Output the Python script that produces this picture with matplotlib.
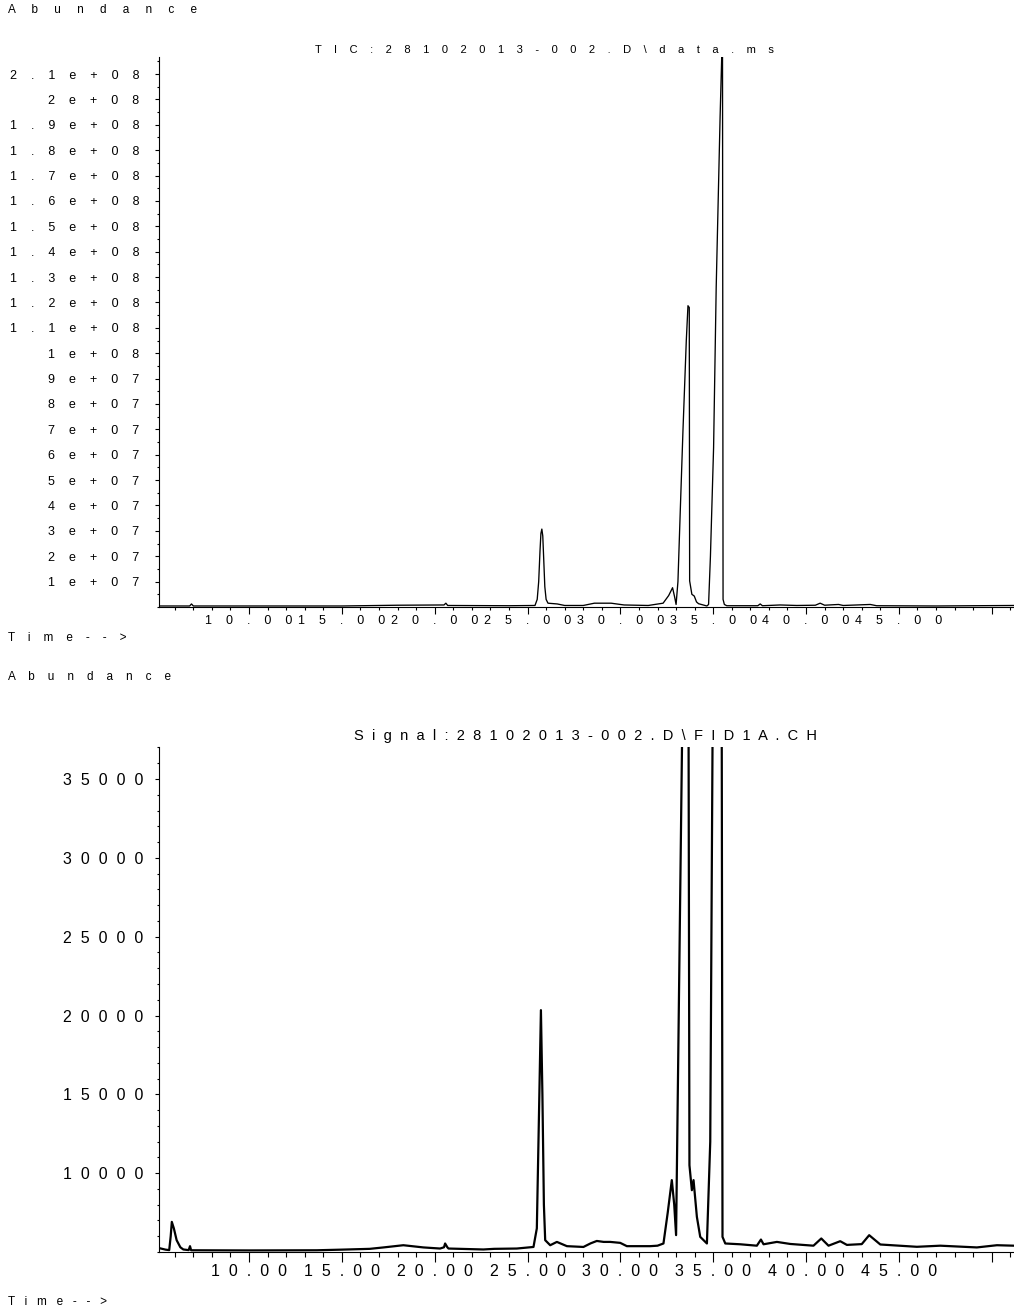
import matplotlib
matplotlib.use("Agg")
import matplotlib.pyplot as plt
from matplotlib.ticker import MultipleLocator

plt.rcParams['font.family'] = ['Liberation Sans', 'DejaVu Sans']

# TIC trace: retention time (min) and abundance (counts)
tic_time = [5.15, 6.8, 6.9, 7.0, 15.0, 18.0, 20.5, 20.6, 20.7, 24.0, 25.4,
            25.52, 25.6, 25.67, 25.72, 25.77, 25.82, 25.87, 25.93, 26.0,
            26.1, 26.6, 27.0, 28.0, 28.6, 29.5, 30.2, 31.5, 32.3, 32.6,
            32.81, 32.92, 33.0, 33.1, 33.22, 33.37, 33.45, 33.55, 33.64,
            33.71, 33.73, 33.85, 33.98, 34.1, 34.21, 34.66, 34.75, 34.85,
            35.02, 35.16, 35.37, 35.47, 35.5, 35.53, 35.6, 35.73, 37.4,
            37.53, 37.65, 38.6, 39.5, 40.5, 40.76, 41.0, 41.75, 42.0, 43.46,
            43.8, 47.0, 49.0, 51.2]
tic_abund = [0.04e7, 0.04e7, 0.12e7, 0.04e7, 0.04e7, 0.07e7, 0.08e7, 0.15e7,
             0.06e7, 0.05e7, 0.06e7, 0.3e7, 1.0e7, 2.2e7, 2.9e7, 3.07e7,
             2.8e7, 1.9e7, 0.8e7, 0.3e7, 0.15e7, 0.12e7, 0.06e7, 0.06e7,
             0.15e7, 0.15e7, 0.08e7, 0.06e7, 0.15e7, 0.45e7, 0.76e7, 0.4e7,
             0.1e7, 1.0e7, 3.67e7, 6.94e7, 8.52e7, 10.5e7, 11.87e7, 11.8e7,
             1.03e7, 0.5e7, 0.43e7, 0.2e7, 0.13e7, 0.04e7, 0.1e7, 2.0e7,
             6.28e7, 12.58e7, 19.29e7, 22.0e7, 22.0e7, 0.3e7, 0.1e7, 0.05e7,
             0.05e7, 0.12e7, 0.05e7, 0.08e7, 0.06e7, 0.07e7, 0.15e7, 0.07e7,
             0.1e7, 0.06e7, 0.1e7, 0.05e7, 0.04e7, 0.05e7, 0.06e7]

# FID trace: retention time (min) and detector signal
fid_time = [5.15, 5.5, 5.7, 5.78, 5.84, 5.95, 6.1, 6.3, 6.46, 6.75, 6.82,
            6.88, 10.0, 13.65, 15.0, 16.5, 17.24, 18.31, 19.39, 20.29, 20.5,
            20.56, 20.68, 20.74, 22.62, 23.2, 24.42, 25.32, 25.5, 25.62,
            25.72, 25.8, 25.88, 25.95, 26.22, 26.58, 27.12, 28.01, 28.4,
            28.73, 29.1, 29.45, 29.99, 30.35, 31.6, 32.0, 32.32, 32.55, 32.77,
            32.9, 33.0, 33.4, 33.6, 33.66, 33.72, 33.85, 33.94, 34.12, 34.3,
            34.66, 34.84, 35.0, 35.45, 35.5, 35.65, 36.45, 37.35, 37.57,
            37.71, 38.43, 39.15, 40.4, 40.82, 41.21, 41.84, 42.2, 43.0, 43.4,
            44.0, 45.97, 47.23, 49.2, 50.28, 51.2]
fid_signal = [5250, 5150, 5120, 6000, 6910, 6500, 5750, 5300, 5160, 5120,
              5370, 5110, 5100, 5110, 5150, 5200, 5290, 5430, 5290, 5220,
              5300, 5540, 5300, 5220, 5160, 5200, 5220, 5320, 6500, 14000,
              20340, 15000, 8000, 5750, 5430, 5640, 5370, 5320, 5550, 5700,
              5640, 5640, 5580, 5370, 5370, 5400, 5540, 7500, 9560, 8000,
              6070, 45000, 60000, 45000, 10500, 8920, 9560, 7230, 5960, 5540,
              12000, 45000, 45000, 5960, 5540, 5490, 5400, 5790, 5490, 5640,
              5510, 5400, 5857, 5400, 5685, 5450, 5500, 6066, 5476, 5330, 5400,
              5290, 5430, 5400]

time_ticks = [10, 15, 20, 25, 30, 35, 40, 45, 50]
time_labeled = [10, 15, 20, 25, 30, 35, 40, 45]
tic_ticks = [1e7, 2e7, 3e7, 4e7, 5e7, 6e7, 7e7, 8e7, 9e7, 1e8, 1.1e8, 1.2e8,
             1.3e8, 1.4e8, 1.5e8, 1.6e8, 1.7e8, 1.8e8, 1.9e8, 2e8, 2.1e8]
fid_ticks = [10000, 15000, 20000, 25000, 30000, 35000]


def spread(s, n):
    # the instrument software prints text with wide letter spacing
    return (" " * n).join(s)


W, H = 1014, 1315
fig = plt.figure(figsize=(W / 100, H / 100), dpi=100)

ax1 = fig.add_axes([159 / W, 1 - 607 / H, 1 - 159 / W, (607 - 57) / H])
ax2 = fig.add_axes([159 / W, 1 - 1252 / H, 1 - 159 / W, (1252 - 747) / H])

ax1.plot(tic_time, tic_abund, color="black", lw=0.95)
ax2.plot(fid_time, fid_signal, color="black", lw=1.6)

for ax in (ax1, ax2):
    ax.set_xlim(5.15, 51.2)
    ax.spines["top"].set_visible(False)
    ax.spines["right"].set_visible(False)
    for s in ("left", "bottom"):
        ax.spines[s].set_linewidth(0.8)
    ax.set_xticks(time_ticks)
    ax.xaxis.set_minor_locator(MultipleLocator(1))

# --- TIC panel ---
ax1.set_ylim(0, 2.167e8)
ax1.set_yticks(tic_ticks)
ax1.set_yticklabels([spread("%g" % v, 4) for v in tic_ticks])
ax1.yaxis.set_minor_locator(MultipleLocator(5e6))
ax1.set_xticklabels([spread("%.2f" % v, 4) if v in time_labeled else ""
                     for v in time_ticks])
ax1.tick_params(axis="y", which="major", length=3, width=0.8, pad=11,
                labelsize=9)
ax1.tick_params(axis="y", which="minor", length=1.5, width=0.8)
ax1.tick_params(axis="x", which="major", length=5, width=0.8, pad=0.5,
                labelsize=9)
ax1.tick_params(axis="x", which="minor", length=2.5, width=0.8)

# --- FID panel ---
ax2.set_ylim(5000, 37030)
ax2.set_yticks(fid_ticks)
ax2.set_yticklabels([spread(str(v), 2) for v in fid_ticks])
ax2.yaxis.set_minor_locator(MultipleLocator(1000))
ax2.set_xticklabels([spread("%.2f" % v, 2) if v in time_labeled else ""
                     for v in time_ticks])
ax2.tick_params(axis="y", which="major", length=3, width=0.8, pad=8.6,
                labelsize=11.5)
ax2.tick_params(axis="y", which="minor", length=1.8, width=0.8)
ax2.tick_params(axis="x", which="major", length=7.2, width=0.8, pad=1.4,
                labelsize=11.5)
ax2.tick_params(axis="x", which="minor", length=3.6, width=0.8)

# captions around the panels
fig.text(8 / W, 1 - 13 / H, spread("Abundance", 5), fontsize=8.5,
         va="baseline")
fig.text(544 / W, 1 - 53 / H, spread("TIC:28102013-002.D\\data.ms", 4),
         fontsize=8, ha="center", va="baseline")
fig.text(8 / W, 1 - 641 / H, spread("Time-->", 4), fontsize=8.5,
         va="baseline")
fig.text(8 / W, 1 - 680 / H, spread("Abundance", 4), fontsize=8.5,
         va="baseline")
fig.text(585 / W, 1 - 740 / H, spread("Signal:28102013-002.D\\FID1A.CH", 2),
         fontsize=10.5, ha="center", va="baseline")
fig.text(8 / W, 1 - 1305 / H, spread("Time-->", 3), fontsize=8.5,
         va="baseline")

fig.savefig("out.png", dpi=100)
